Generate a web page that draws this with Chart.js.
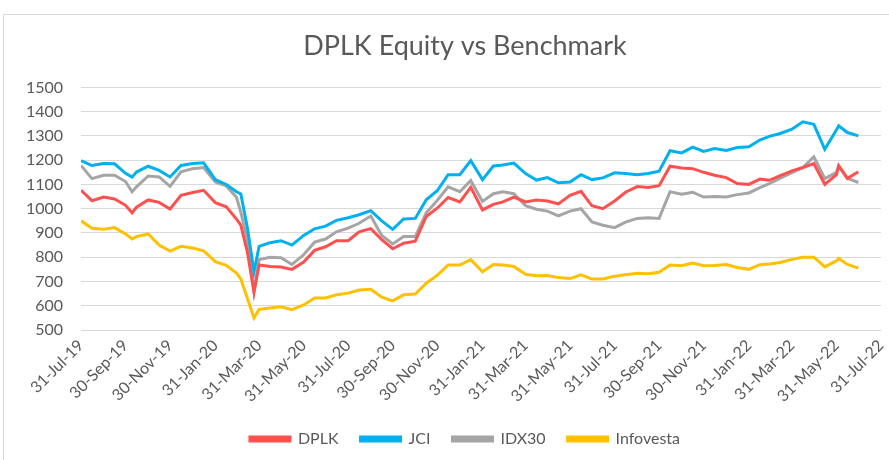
<!DOCTYPE html>
<html>
<head>
<meta charset="utf-8">
<script src="https://cdn.jsdelivr.net/npm/chart.js@4/dist/chart.umd.min.js"></script>
<style>
  html, body { margin:0; padding:0; background:#fff; overflow:hidden; width:889px; height:460px; }
  #wrap { position:absolute; left:3px; top:14px; width:922px; height:460px; border:1px solid #D9D9D9; background:#fff; }
  canvas { display:block; }
</style>
</head>
<body>
<div id="wrap"><canvas id="c" width="922" height="446"></canvas></div>
<script>
// ---- data ----
const dates = [
  "2019-07-31","2019-08-15","2019-08-31","2019-09-15","2019-09-30","2019-10-09","2019-10-15","2019-10-31",
  "2019-11-15","2019-11-30","2019-12-15","2019-12-31","2020-01-15","2020-01-31","2020-02-15","2020-02-29",
  "2020-03-06","2020-03-15","2020-03-24","2020-03-31","2020-04-15","2020-04-30","2020-05-15","2020-05-31",
  "2020-06-15","2020-06-30","2020-07-15","2020-07-31","2020-08-15","2020-08-31","2020-09-15","2020-09-30",
  "2020-10-15","2020-10-31","2020-11-15","2020-11-30","2020-12-15","2020-12-31","2021-01-15","2021-01-31",
  "2021-02-15","2021-02-28","2021-03-15","2021-03-31","2021-04-15","2021-04-30","2021-05-15","2021-05-31",
  "2021-06-15","2021-06-30","2021-07-15","2021-07-31","2021-08-15","2021-08-31","2021-09-15","2021-09-30",
  "2021-10-15","2021-10-31","2021-11-15","2021-11-30","2021-12-15","2021-12-31","2022-01-15","2022-01-31",
  "2022-02-15","2022-02-28","2022-03-15","2022-03-31","2022-04-15","2022-04-30","2022-05-15","2022-05-31",
  "2022-06-03","2022-06-15","2022-06-30"
];
const dplk = [
  1076,1033,1048,1040,1014,983,1006,1036, 1026,999,1055,1067,1076,1025,1008,957,
  932,820,655,768,762,760,750,780, 828,843,868,868,905,918,872,835,
  858,866,968,1002,1046,1028,1088,995, 1018,1028,1048,1028,1036,1032,1020,1055,
  1072,1012,1000,1032,1068,1091,1087,1095, 1175,1168,1165,1150,1138,1128,1104,1100,
  1122,1117,1136,1156,1170,1186,1100,1140, 1177,1125,1152
];
const jci = [
  1198,1178,1186,1185,1146,1130,1151,1175, 1158,1131,1178,1186,1189,1120,1100,1070,
  1061,920,740,845,860,868,850,890, 917,928,952,963,975,992,950,915,
  958,960,1037,1074,1140,1140,1198,1120, 1176,1180,1188,1145,1118,1128,1107,1110,
  1140,1120,1127,1148,1145,1140,1145,1155, 1239,1230,1254,1236,1248,1240,1252,1255,
  1283,1298,1310,1328,1358,1348,1245,1325, 1342,1314,1300
];
const idx30 = [
  1178,1124,1138,1138,1112,1070,1090,1135, 1131,1092,1152,1165,1170,1110,1094,1047,
  985,870,660,790,800,798,770,810, 862,875,905,920,940,970,890,855,
  885,885,983,1034,1090,1070,1116,1030, 1062,1070,1062,1012,998,990,970,990,
  1000,945,932,922,945,960,963,960, 1070,1060,1068,1048,1050,1048,1058,1065,
  1087,1103,1126,1149,1170,1214,1124,1150, 1177,1125,1108
];
const infovesta = [
  950,919,915,922,896,875,885,896, 850,825,845,838,826,782,767,735,
  710,630,550,585,591,596,584,603, 632,632,645,652,665,668,635,620,
  645,648,693,725,768,768,790,740, 770,768,762,730,724,725,716,712,
  727,710,710,722,728,734,732,738, 768,765,776,765,766,770,758,750,
  769,772,778,791,800,800,760,785, 795,770,755
];
const tickDates = [
  "2019-07-31","2019-09-30","2019-11-30","2020-01-31","2020-03-31","2020-05-31","2020-07-31",
  "2020-09-30","2020-11-30","2021-01-31","2021-03-31","2021-05-31","2021-07-31","2021-09-30",
  "2021-11-30","2022-01-31","2022-03-31","2022-05-31","2022-07-31"
];
const tickLabels = [
  "31-Jul-19","30-Sep-19","30-Nov-19","31-Jan-20","31-Mar-20","31-May-20","31-Jul-20",
  "30-Sep-20","30-Nov-20","31-Jan-21","31-Mar-21","31-May-21","31-Jul-21","30-Sep-21",
  "30-Nov-21","31-Jan-22","31-Mar-22","31-May-22","31-Jul-22"
];
const yTicks = [500,600,700,800,900,1000,1100,1200,1300,1400,1500];
const seriesNames = ["DPLK","JCI","IDX30","Infovesta"];
const seriesColors = ["#FF5050","#00B0F0","#A5A5A5","#FFC000"];

// ---- helpers ----
const dayOf = s => { const [y,m,d] = s.split("-").map(Number); return Date.UTC(y,m-1,d)/86400000; };
const day0 = dayOf(tickDates[0]);
const toX = s => dayOf(s) - day0;
const mk = vals => vals.map((v,i) => ({x: toX(dates[i]), y: v}));
const tickX = tickDates.map(toX);

const FONT = "Lato, 'Open Sans', sans-serif";
const TXT = "#595959";

const datasets = [dplk, jci, idx30, infovesta].map((vals, k) => ({
  label: seriesNames[k],
  data: mk(vals),
  borderColor: seriesColors[k],
  backgroundColor: seriesColors[k],
  borderWidth: 3,
  pointRadius: 0,
  tension: 0,
  fill: false
}));

new Chart(document.getElementById("c"), {
  type: "line",
  data: { datasets },
  options: {
    responsive: false,
    animation: false,
    devicePixelRatio: 1,
    layout: { padding: { left: 0, right: 0, top: 0, bottom: 4 } },
    plugins: {
      title: {
        display: true,
        text: "DPLK Equity vs Benchmark",
        color: TXT,
        font: { family: FONT, size: 27, weight: "normal" },
        padding: { top: 15, bottom: 25 }
      },
      legend: {
        position: "bottom",
        labels: {
          boxWidth: 40, boxHeight: 4, padding: 22,
          color: TXT,
          font: { family: FONT, size: 16 }
        }
      },
      tooltip: { enabled: false }
    },
    scales: {
      x: {
        type: "linear",
        min: tickX[0],
        max: tickX[tickX.length - 1],
        afterBuildTicks: s => { s.ticks = tickX.map(v => ({ value: v })); },
        afterFit: s => { s.height = 79; },
        grid: { display: false, drawTicks: false },
        border: { display: false },
        ticks: {
          autoSkip: false, minRotation: 45, maxRotation: 45, padding: 6,
          color: TXT, font: { family: FONT, size: 16 },
          callback: (v, i) => tickLabels[i]
        }
      },
      y: {
        min: yTicks[0],
        max: yTicks[yTicks.length - 1],
        afterBuildTicks: s => { s.ticks = yTicks.map(v => ({ value: v })); },
        afterFit: s => { s.width = 77; },
        grid: { color: "#D9D9D9", lineWidth: 1, drawTicks: false },
        border: { display: false },
        ticks: { padding: 18, color: TXT, font: { family: FONT, size: 16 }, callback: v => String(v) }
      },
      spacer: {
        type: "linear",
        axis: "y",
        position: "right",
        display: true,
        afterFit: s => { s.width = 45; },
        grid: { display: false, drawTicks: false },
        border: { display: false },
        ticks: { display: false }
      }
    }
  }
});
</script>
</body>
</html>
